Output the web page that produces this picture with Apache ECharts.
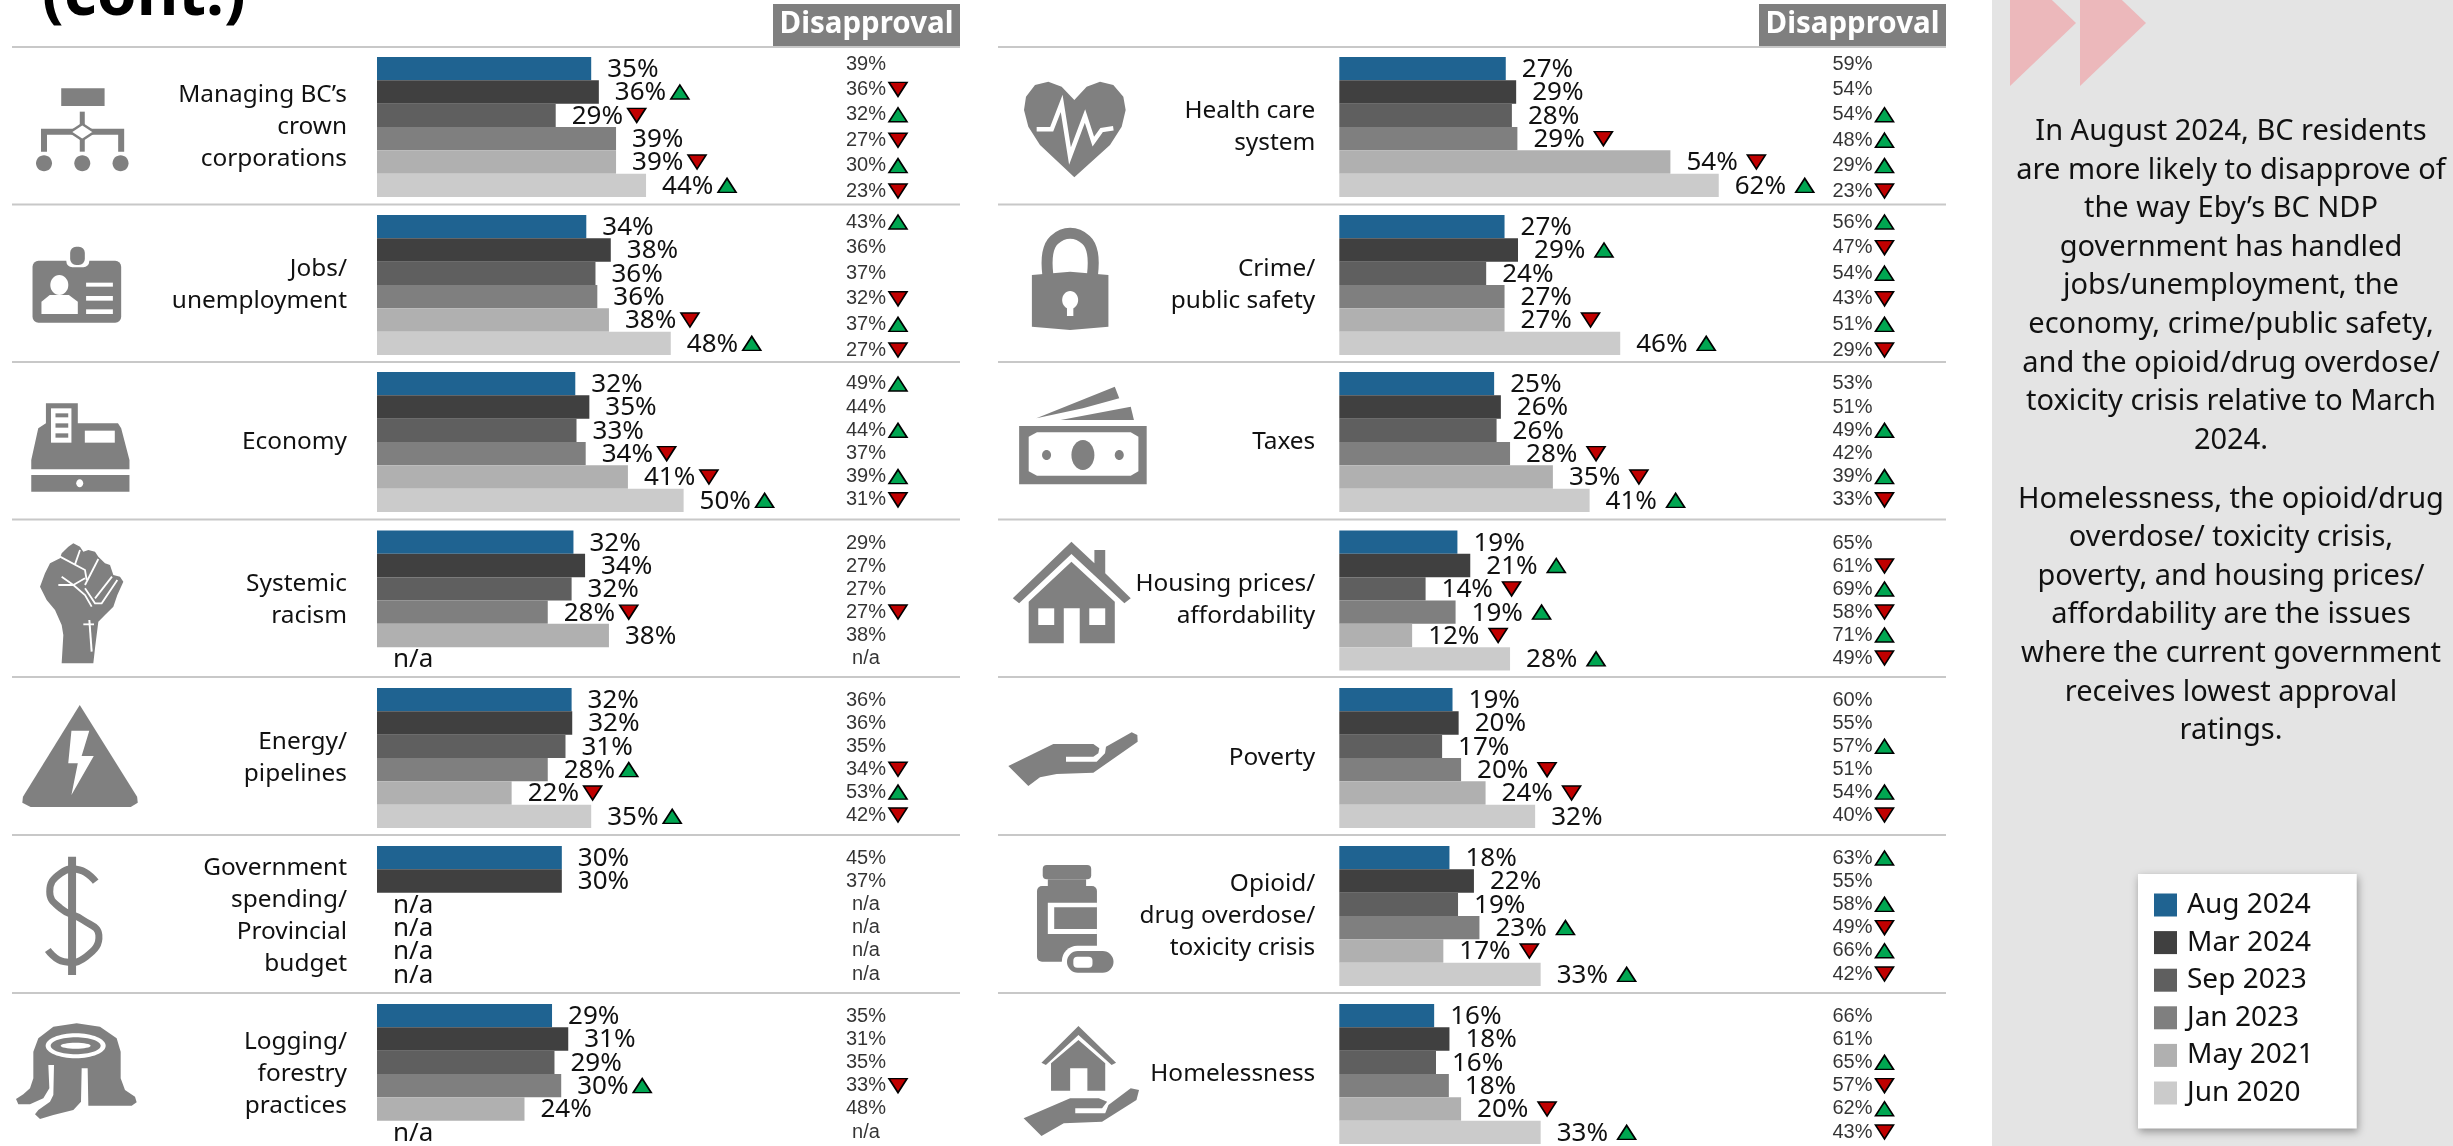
<!DOCTYPE html>
<html><head><meta charset="utf-8">
<style>html,body{margin:0;padding:0;background:#fff;overflow:hidden}#c{width:2453px;height:1146px}</style>
<script src="https://cdn.jsdelivr.net/npm/echarts@6/dist/echarts.min.js"></script>
</head><body><div id="c"></div>
<script>
const surveyDates = ['Aug 2024','Mar 2024','Sep 2023','Jan 2023','May 2021','Jun 2020'];
const issues = [
 'Managing BC’s\ncrown\ncorporations','Jobs/\nunemployment','Economy','Systemic\nracism','Energy/\npipelines',
 'Government\nspending/\nProvincial\nbudget','Logging/\nforestry\npractices',
 'Health care\nsystem','Crime/\npublic safety','Taxes','Housing prices/\naffordability','Poverty',
 'Opioid/\ndrug overdose/\ntoxicity crisis','Homelessness'];
const approval = [
 [35.0,36.25,29.2,39.06,39.06,43.96],[34.2,38.2,35.7,36.0,37.9,48.0],[32.4,34.7,32.6,34.1,41.0,50.1],
 [32.1,34.0,31.8,27.9,37.9,null],[31.8,31.9,30.8,27.9,22.0,35.0],[30.2,30.2,null,null,null,null],
 [28.6,31.25,29.0,30.1,24.1,null],
 [27.2,28.9,28.2,29.1,54.1,62.0],[27.0,29.2,24.0,27.0,27.0,45.9],[25.3,26.4,25.7,27.9,34.9,40.9],
 [19.3,21.4,14.1,19.0,11.9,27.9],[18.5,19.5,16.8,19.9,23.9,32.0],[18.0,22.0,19.4,22.9,17.0,32.9],
 [15.5,18.0,15.8,17.9,19.9,32.9]];
const approvalChange = [
 [0,1,-1,0,-1,1],[0,0,0,0,-1,1],[0,0,0,-1,-1,1],[0,0,0,-1,0,0],[0,0,0,1,-1,1],[0,0,0,0,0,0],[0,0,0,1,0,0],
 [0,0,0,-1,-1,1],[0,1,0,0,-1,1],[0,0,0,-1,-1,1],[0,1,-1,1,-1,1],[0,0,0,-1,-1,0],[0,0,0,1,-1,1],[0,0,0,0,-1,1]];
const disapproval = [
 [39,36,32,27,30,23],[43,36,37,32,37,27],[49,44,44,37,39,31],[29,27,27,27,38,null],[36,36,35,34,53,42],
 [45,37,null,null,null,null],[35,31,35,33,48,null],
 [59,54,54,48,29,23],[56,47,54,43,51,29],[53,51,49,42,39,33],[65,61,69,58,71,49],[60,55,57,51,54,40],
 [63,55,58,49,66,42],[66,61,65,57,62,43]];
const disapprovalChange = [
 [0,-1,1,-1,1,-1],[1,0,0,-1,1,-1],[1,0,1,0,1,-1],[0,0,0,-1,0,0],[0,0,0,-1,1,-1],[0,0,0,0,0,0],[0,0,0,-1,0,0],
 [0,0,1,1,1,-1],[1,-1,1,-1,1,-1],[0,0,1,0,1,-1],[0,-1,1,-1,1,-1],[0,0,1,0,1,-1],[1,0,1,-1,1,-1],[0,0,1,-1,1,-1]];
const insightParagraphs = [
 'In August 2024, BC residents\nare more likely to disapprove of\nthe way Eby’s BC NDP\ngovernment has handled\njobs/unemployment, the\neconomy, crime/public safety,\nand the opioid/drug overdose/\ntoxicity crisis relative to March\n2024.',
 'Homelessness, the opioid/drug\noverdose/ toxicity crisis,\npoverty, and housing prices/\naffordability are the issues\nwhere the current government\nreceives lowest approval\nratings.'];

/* ---------- styling / layout ---------- */
const dateColors = ['#1f6391','#404040','#5f5f5f','#7f7f7f','#b0b0b0','#cbcbcb'];
const UP='#00a651', DOWN='#c00000', GRAY='#808080', FONT='"Noto Sans"';
const rowTops=[57,215,372,530.5,688,846,1004];
const disTops=[51.3,209.2,372.4,531.5,689,846.4,1004.4];
const disHeights=[152.4,153.6,139,138,137.5,139.2,139.2];
const panels=[
 {barLeft:377,labelMargin:30,arrowDx:81,disLeft:826},
 {barLeft:1339.3,labelMargin:24,arrowDx:86,disLeft:1812.5}];
const sepY=[47,204.5,362,519.5,677,835,993];

const grid=[],xAxis=[],yAxis=[],series=[];
const arrowItem=(x,y,dir)=>({value:[x,y],symbolRotate:dir>0?0:180,itemStyle:{color:dir>0?UP:DOWN}});
const arrowBase={type:'scatter',symbol:'triangle',symbolSize:[18,14],silent:true,z:5,
  itemStyle:{borderColor:'#000',borderWidth:1.6,opacity:1}};

issues.forEach((issue,k)=>{
  const p=panels[k<7?0:1], row=k%7;
  /* approval grid */
  const g=grid.length;
  grid.push({left:p.barLeft,top:rowTops[row],width:612,height:140});
  xAxis.push({gridIndex:g,type:'value',min:0,max:100,show:false});
  const y0=yAxis.length;
  yAxis.push({gridIndex:g,type:'category',inverse:true,data:[issue],
    axisLine:{show:false},axisTick:{show:false},
    axisLabel:{interval:0,margin:p.labelMargin,fontFamily:FONT,fontSize:24.4,lineHeight:32,color:'#111',align:'right',padding:[6,0,0,0]}});
  yAxis.push({gridIndex:g,type:'category',inverse:true,data:surveyDates,show:false});
  surveyDates.forEach((d,i)=>{
    const v=approval[k][i];
    series.push({type:'bar',name:d,xAxisIndex:g,yAxisIndex:y0,barGap:0,barCategoryGap:0,silent:true,
      itemStyle:{color:dateColors[i]},
      label:{show:true,position:'right',distance:16,offset:[0,1],fontFamily:FONT,fontSize:26,color:'#111',
        formatter:()=>v==null?'n/a':Math.round(v)+'%'},
      data:[v==null?0:v]});
  });
  const up=[];
  approvalChange[k].forEach((c,i)=>{ if(c) up.push(arrowItem(approval[k][i],surveyDates[i],c)); });
  series.push({...arrowBase,name:'approval change',xAxisIndex:g,yAxisIndex:y0+1,symbolOffset:[p.arrowDx,0],data:up});

  /* disapproval grid */
  const h=grid.length;
  grid.push({left:p.disLeft,top:disTops[row],width:80,height:disHeights[row]});
  xAxis.push({gridIndex:h,type:'category',data:['Disapproval'],show:false});
  const y1=yAxis.length;
  yAxis.push({gridIndex:h,type:'category',inverse:true,data:surveyDates,show:false});
  series.push({type:'scatter',name:'disapproval',xAxisIndex:h,yAxisIndex:y1,silent:true,symbol:'circle',symbolSize:1,
    itemStyle:{color:'transparent'},
    label:{show:true,position:'inside',fontFamily:'"Liberation Sans"',fontSize:20,color:'#000',
      formatter:q=>q.data[2]==null?'n/a':q.data[2]+'%'},
    data:disapproval[k].map((v,i)=>['Disapproval',surveyDates[i],v])});
  const dn=[];
  disapprovalChange[k].forEach((c,i)=>{ if(c) dn.push(arrowItem('Disapproval',surveyDates[i],c)); });
  series.push({...arrowBase,name:'disapproval change',xAxisIndex:h,yAxisIndex:y1,symbolOffset:[32,0],data:dn});
});

/* ---------- decoration ---------- */
const els=[];
const rect=(x,y,w,h,fill,r)=>els.push({type:'rect',silent:true,shape:{x,y,width:w,height:h,r:r||0},style:{fill}});
/* icon geometry helpers: points are given on a horizontal 1.568 / vertical 3 measuring grid */
const pts=(ox,oy,a)=>{const o=[];for(let i=0;i<a.length;i+=2)o.push([ox+a[i]/1.568,oy+a[i+1]/3]);return o;};
const poly=(ox,oy,a,fill,smooth)=>els.push({type:'polygon',silent:true,shape:{points:pts(ox,oy,a),smooth:smooth||0},style:{fill:fill||GRAY}});
const line=(ox,oy,a,stroke,w,smooth)=>els.push({type:'polyline',silent:true,shape:{points:pts(ox,oy,a),smooth:smooth||0},style:{stroke:stroke||GRAY,lineWidth:w,fill:'none'}});
const box=(ox,oy,x0,y0,x1,y1,fill,r)=>rect(ox+x0/1.568,oy+y0/3,(x1-x0)/1.568,(y1-y0)/3,fill||GRAY,r);
const oval=(ox,oy,cx,cy,rx,ry,fill)=>els.push({type:'ellipse',silent:true,shape:{cx:ox+cx/1.568,cy:oy+cy/3,rx,ry},style:{fill:fill||GRAY}});
/* same idea on an even 3x grid */
const pts3=(ox,oy,a)=>{const o=[];for(let i=0;i<a.length;i+=2)o.push([ox+a[i]/3,oy+a[i+1]/3]);return o;};
const poly3=(ox,oy,a,fill,smooth)=>els.push({type:'polygon',silent:true,shape:{points:pts3(ox,oy,a),smooth:smooth||0},style:{fill:fill||GRAY}});
const line3=(ox,oy,a,stroke,w,smooth)=>els.push({type:'polyline',silent:true,shape:{points:pts3(ox,oy,a),smooth:smooth||0},style:{stroke:stroke||GRAY,lineWidth:w,fill:'none'}});
const oval3=(ox,oy,cx,cy,rx,ry,fill)=>els.push({type:'ellipse',silent:true,shape:{cx:ox+cx/3,cy:oy+cy/3,rx,ry},style:{fill:fill||GRAY}});

/* sidebar */
rect(1992,0,461,1146,'#e4e4e4');
els.push({type:'polygon',silent:true,shape:{points:[[2010,-40],[2076,23],[2010,86]]},style:{fill:'#ecb8bb'}});
els.push({type:'polygon',silent:true,shape:{points:[[2080,-40],[2146,23],[2080,86]]},style:{fill:'#ecb8bb'}});
[[112.5,0],[480,1]].forEach(([y,i])=>els.push({type:'text',silent:true,x:2231,y,
  style:{text:insightParagraphs[i],fill:'#111',font:'29px '+FONT,textAlign:'center',lineHeight:38.6}}));

/* separators + headers */
sepY.forEach(y=>{
  els.push({type:'line',silent:true,shape:{x1:12,y1:y,x2:960,y2:y},style:{stroke:'#c8c8c8',lineWidth:2}});
  els.push({type:'line',silent:true,shape:{x1:998,y1:y,x2:1946,y2:y},style:{stroke:'#c8c8c8',lineWidth:2}});
});
[[773,866.5],[1759,1852.5]].forEach(([x,c])=>{
  rect(x,4,187,42,'#7f7f7f');
  els.push({type:'text',silent:true,x:c,y:25,style:{text:'Disapproval',fill:'#fff',font:'bold 29.5px '+FONT,textAlign:'center',textVerticalAlign:'middle'}});
});

/* Icon: org chart */
box(0,0,96,265,164,318);
line(0,0,[129,335,129,455],GRAY,5);
line(0,0,[69,455,69,395,190,395,190,455],GRAY,6);
poly(0,0,[129,372,148,396,129,420,110,396],'#fff');
line(0,0,[129,372,148,396,129,420,110,396,129,372],GRAY,2.5);
oval(0,0,69,490,8,8);oval(0,0,129,490,8,8);oval(0,0,189,490,8,8);
/* Icon: ID badge */
box(0,0,51,782,190,968,GRAY,6);
box(0,0,104,760,140,802,'#fff',6);
box(0,0,110,740,133,795,GRAY,6);
oval(0,0,93,855,9,10,'#fff');
poly(0,0,[65,942,65,905,78,885,108,885,122,905,122,942],'#fff');
box(0,0,135,848,177,860,'#fff');box(0,0,135,888,177,902,'#fff');box(0,0,135,928,177,942,'#fff');
/* Icon: cash register */
poly(0,400,[60,85,72,70,72,10,122,10,122,70,185,70,190,85,203,180,203,208,49,208,49,180],GRAY);
box(0,400,80,25,112,128,'#fff');
box(0,400,87,40,107,52);box(0,400,87,70,107,83);box(0,400,87,100,107,113);
box(0,400,133,92,180,128,'#fff');
box(0,400,49,225,203,275);
oval(0,400,125,250,3.5,4,'#fff');
/* Icon: raised fist */
poly3(30,535,[95,385,190,385,195,340,205,260,225,240,250,215,262,180,280,140,270,125,250,120,240,90,225,85,205,65,195,50,175,45,160,50,150,35,130,25,115,35,95,55,90,70,60,85,45,115,30,155,50,195,75,225,95,270,100,300],GRAY);
line3(30,535,[85,150,130,150,165,180,185,215],'#fff',1.8);
line3(30,535,[95,125,130,150,165,130],'#fff',1.8);
line3(30,535,[90,65,165,105,170,135],'#fff',1.8);
line3(30,535,[150,45,135,88],'#fff',1.8);
line3(30,535,[205,72,165,150],'#fff',1.8);
line3(30,535,[246,125,195,190],'#fff',1.8);
line3(30,535,[165,160,195,205,215,205,262,135],'#fff',1.8);
line3(30,535,[178,255,185,350],'#fff',2);
line3(30,535,[160,268,192,268],'#fff',1.8);
/* Icon: lightning triangle */
poly(0,400,[125,915,215,1190,216,1208,205,1221,48,1221,35,1208,36,1190],GRAY);
poly(0,400,[112,992,140,992,128,1068,147,1068,112,1185,122,1090,107,1090],'#fff');
/* Icon: dollar */
line(0,780,[113,230,113,585],GRAY,8);
line(0,780,[150,305,125,270,95,280,78,335,95,385,130,420,155,465,135,530,100,545,75,510],GRAY,7,0.5);
/* Icon: stump */
poly3(10,1015,[70,110,85,70,130,35,200,25,270,35,320,70,332,110,332,190,345,225,375,245,380,262,365,272,235,272,233,160,215,160,213,260,190,285,130,300,90,312,75,298,85,285,120,260,130,240,132,150,115,150,118,220,100,250,60,268,25,268,18,252,40,238,60,220,70,190],GRAY);
oval3(10,1015,197,92,30,12.5,'#fff');oval3(10,1015,197,92,25,8.5);oval3(10,1015,197,92,15,3,'#fff');
/* Icon: heart */
poly3(1010,70,[193,322,90,225,55,170,42,120,48,80,75,45,115,35,155,50,193,90,230,50,270,35,310,45,340,80,347,120,335,170,300,225],GRAY);
line3(1010,70,[80,178,125,178,155,100,180,258,225,138,250,215,275,180,310,175],'#fff',4.5);
/* Icon: padlock */
line(1000,0,[75,825,75,760,85,720,110,700,135,720,145,760,145,825],GRAY,11,0.4);
poly(1000,0,[50,825,110,815,170,825,170,980,110,990,50,980],GRAY);
oval(1000,0,110,900,8,9,'#fff');box(1000,0,105,915,115,948,'#fff');
/* Icon: money */
poly(1000,400,[57,55,180,-40,187,-5,130,25],GRAY);
poly(1000,400,[95,60,205,20,210,60],GRAY);
box(1000,400,30,78,230,253);
poly(1000,400,[58,97,205,97,217,110,217,214,205,227,58,227,45,214,45,110],'#fff');
oval(1000,400,130,165,11.5,15);oval(1000,400,73,165,4.5,5);oval(1000,400,187,165,4.5,5);
/* Icon: house */
poly(1000,400,[112,425,148,490,148,450,165,450,165,520,205,595,195,610,112,462,30,610,20,595],GRAY);
poly(1000,400,[112,485,180,605,180,730,125,730,125,625,100,625,100,730,45,730,45,605],GRAY);
box(1000,400,60,625,85,675,'#fff');box(1000,400,140,625,165,675,'#fff');
/* Icon: open hand */
poly3(1000,720,[25,138,160,72,280,72,298,85,295,100,280,110,198,110,198,125,290,125,315,100,318,80,395,37,412,45,413,65,280,158,170,162,120,172,85,198],GRAY);
/* Icon: pill bottle */
box(1000,780,67,255,143,298,GRAY,4);
box(1000,780,75,298,135,320);
box(1000,780,58,318,152,545,GRAY,5);
box(1000,780,75,368,152,462,'#fff');
box(1000,780,85,382,152,447);
box(1000,780,97,497,185,590,'#fff',16);
box(1000,780,105,513,178,578,GRAY,14);
box(1000,780,115,530,145,563,'#fff',4);
/* Icon: house in hand */
poly(1000,780,[123,738,182,848,175,855,123,765,72,855,65,848],GRAY);
poly(1000,780,[123,780,165,850,165,932,137,932,137,865,110,865,110,932,80,932,80,850],GRAY);
poly(1000,780,[37,1015,110,955,155,955,168,965,160,985,118,985,118,1000,165,1000,170,975,205,925,218,930,214,960,160,1025,100,1030,65,1068],GRAY);

const chart=echarts.init(document.getElementById('c'),null,{renderer:'canvas',width:2453,height:1146});
chart.setOption({
  animation:false,
  backgroundColor:'#fff',
  title:{text:'(cont.)',left:37,top:-40,textStyle:{fontFamily:FONT,fontWeight:'bold',fontSize:64,color:'#000'}},
  tooltip:{show:false},
  legend:{orient:'vertical',left:2138,top:874,
    data:surveyDates,icon:'rect',itemWidth:23,itemHeight:23,itemGap:9.6,
    padding:[17,43,21.5,16],selectedMode:false,backgroundColor:'#fff',
    shadowColor:'rgba(0,0,0,0.35)',shadowBlur:8,shadowOffsetX:1,shadowOffsetY:3,
    textStyle:{fontFamily:FONT,fontSize:28,color:'#111',padding:[0,0,0,5]}},
  grid,xAxis,yAxis,series,
  graphic:{elements:els}
});
</script></body></html>
